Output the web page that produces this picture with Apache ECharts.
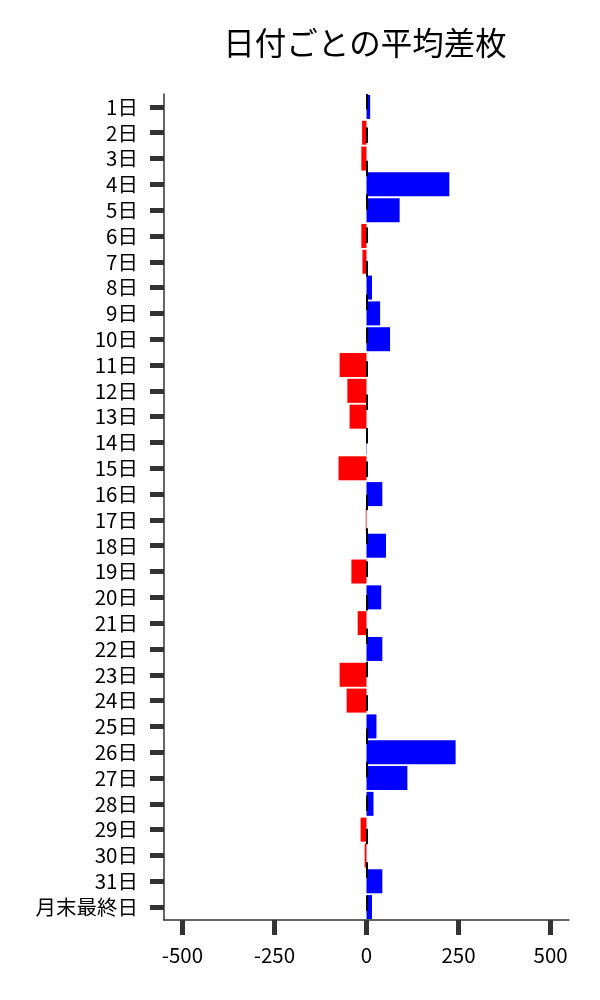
<!DOCTYPE html>
<html>
<head>
<meta charset="utf-8">
<script src="https://cdn.jsdelivr.net/npm/echarts@6/dist/echarts.min.js"></script>
<style>
html,body{margin:0;padding:0;background:#fff;}
#chart{width:600px;height:1000px;}
</style>
</head>
<body>
<div id="chart"></div>
<script>
const categories = ['1日','2日','3日','4日','5日','6日','7日','8日','9日','10日','11日','12日','13日','14日','15日','16日','17日','18日','19日','20日','21日','22日','23日','24日','25日','26日','27日','28日','29日','30日','31日','月末最終日'];
const avgDiff = [10,-12,-14,225,90,-14,-11,15,37,64,-73,-52,-46,1,-76,43,-2,53,-41,40,-24,43,-73,-54,27,242,111,19,-16,-5,43,15];
const xTicks = [-500,-250,0,250,500];
const titleText = '日付ごとの平均差枚';

const FONT = "'Noto Sans CJK JP', 'Noto Sans', sans-serif";
const chart = echarts.init(document.getElementById('chart'), null, {renderer:'canvas'});
chart.setOption({
  animation: false,
  backgroundColor: '#ffffff',
  title: {
    text: titleText,
    left: 360,
    textAlign: 'center',
    top: 22,
    textStyle: {fontFamily: FONT, fontSize: 31.5, fontWeight: 'normal', color: '#000'}
  },
  grid: {left: 164, right: 31, top: 94, bottom: 80, containLabel: false},
  xAxis: {
    type: 'value',
    min: -550, max: 550,
    splitLine: {show: false},
    axisLine: {show: true, onZero: false, lineStyle: {color: '#333', width: 1.5}},
    axisTick: {show: true, customValues: xTicks, length: 15, lineStyle: {color: '#333', width: 5}},
    axisLabel: {customValues: xTicks, margin: 25, fontFamily: FONT, fontSize: 20.5, color: '#000'}
  },
  yAxis: {
    type: 'category',
    data: categories,
    inverse: true,
    axisLine: {show: true, onZero: false, lineStyle: {color: '#333', width: 1.5}},
    axisTick: {show: true, alignWithLabel: true, interval: 0, length: 14, lineStyle: {color: '#333', width: 5}},
    axisLabel: {interval: 0, margin: 26, fontFamily: FONT, fontSize: 20.5, color: '#000'},
    splitLine: {show: false}
  },
  series: [{
    type: 'bar',
    data: avgDiff,
    barCategoryGap: '7%',
    itemStyle: {color: function(p){ return p.value >= 0 ? '#0000ff' : '#ff0000'; }},
    markLine: {
      silent: true,
      symbol: ['none','none'],
      label: {show: false},
      lineStyle: {color: '#000', width: 2, type: [15.5, 17.9], dashOffset: 0},
      data: [{xAxis: 0}]
    }
  }]
});
</script>
</body>
</html>
